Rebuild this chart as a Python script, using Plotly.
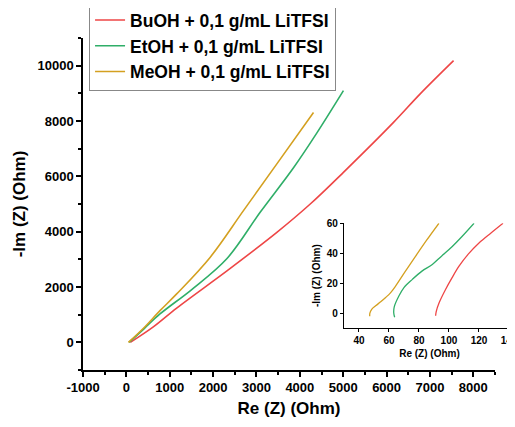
import plotly.graph_objects as go

# main Nyquist curves (Re, -Im) in Ohm
bu_re = [91, 621, 1160, 2350, 3470, 4240, 5005, 6160, 6775, 7545]
bu_im = [0, 560, 1240, 2620, 3975, 5000, 6145, 7950, 8980, 10180]
et_re = [63, 400, 775, 1500, 2315, 3085, 3850, 4390, 5005]
et_im = [0, 480, 1025, 1900, 3020, 4700, 6300, 7560, 9095]
me_re = [47, 400, 775, 1160, 1930, 2700, 3470, 4315]
me_im = [0, 520, 1145, 1750, 3070, 4760, 6450, 8310]

# zoomed high-frequency region (inset)
bu_re_z = [91.1, 91.5, 93.5, 97.8, 102, 106.7, 113, 120, 128, 136]
bu_im_z = [-1.8, 1, 7, 15.9, 23.5, 31.3, 39.5, 46.8, 53.5, 60]
et_re_z = [63.8, 63.2, 63.5, 66.7, 70, 75.6, 82, 88.9, 95, 102.2, 109, 116.7]
et_im_z = [-2.8, 0, 4, 11.5, 17, 22.5, 28, 32.5, 38, 44.5, 51.5, 60]
me_re_z = [47.2, 47.3, 48.5, 51.1, 54.5, 57.8, 61, 64.4, 71, 77.8, 85, 93.3]
me_im_z = [-2.2, 0, 2.5, 4.8, 7.5, 10.4, 13.5, 18, 28, 38, 48.5, 60]

x_ticks = [-1000, 0, 1000, 2000, 3000, 4000, 5000, 6000, 7000, 8000]
x_ticktext = ["-1000", "0", "1000", "2000", "3000", "4000", "5000", "6000", "7000", "8000"]

names = ["BuOH + 0,1 g/mL LiTFSI", "EtOH + 0,1 g/mL LiTFSI", "MeOH + 0,1 g/mL LiTFSI"]
colors = ["#EE4646", "#2FAE68", "#D4A020"]

fig = go.Figure()
main = [(bu_re, bu_im), (et_re, et_im), (me_re, me_im)]
zoom = [(bu_re_z, bu_im_z), (et_re_z, et_im_z), (me_re_z, me_im_z)]
for (x, y), n, c in zip(main, names, colors):
    fig.add_trace(go.Scatter(x=x, y=y, name=n, mode="lines",
                             line=dict(color=c, width=1.6, shape="spline", smoothing=1)))
for (x, y), c in zip(zoom, colors):
    fig.add_trace(go.Scatter(x=x, y=y, mode="lines", showlegend=False,
                             xaxis="x2", yaxis="y2",
                             line=dict(color=c, width=1.3, shape="spline")))

ax_common = dict(showgrid=False, zeroline=False, showline=True, linecolor="black",
                 ticks="outside", tickcolor="black")

# page body has an 8px margin, so the figure is 8px smaller than the window
fig.update_layout(
    width=507, height=419,
    margin=dict(l=75, r=0, t=30, b=57, autoexpand=False),
    plot_bgcolor="white", paper_bgcolor="white",
    font=dict(family="Arial, Liberation Sans", color="black"),
    xaxis=dict(**ax_common, domain=[0, 0.9537], range=[-1000, 8500],
               tickvals=x_ticks, ticktext=x_ticktext,
               linewidth=1.5, ticklen=5, tickwidth=1.5,
               minor=dict(ticks="outside", dtick=500, ticklen=3, tickcolor="black"),
               tickfont=dict(size=13, weight="bold"),
               title=dict(text="<b>Re (Z) (Ohm)</b>", font=dict(size=17), standoff=8)),
    yaxis=dict(**ax_common, range=[-1000, 11000], dtick=2000, tickformat="d",
               linewidth=1.5, ticklen=5, tickwidth=1.5,
               minor=dict(ticks="outside", dtick=1000, ticklen=3, tickcolor="black"),
               tickfont=dict(size=13, weight="bold"),
               title=dict(text="<b>-Im (Z) (Ohm)</b>", font=dict(size=17), standoff=8)),
    xaxis2=dict(**ax_common, anchor="y2", domain=[0.604, 1.0], range=[30, 144],
                tickvals=[40, 60, 80, 100, 120, 140], linewidth=1, ticklen=3,
                ticklabeloverflow="allow",
                tickfont=dict(size=10, weight="bold"),
                title=dict(text="<b>Re (Z) (Ohm)</b>", font=dict(size=10), standoff=4)),
    yaxis2=dict(**ax_common, anchor="x2", domain=[0.1265, 0.442], range=[-10, 60],
                tickvals=[0, 20, 40, 60], linewidth=1, ticklen=3,
                tickfont=dict(size=10, weight="bold"),
                title=dict(text="<b>-Im (Z) (Ohm)</b>", font=dict(size=10), standoff=4)),
    legend=dict(x=0.014, y=1.111, xanchor="left", yanchor="top",
                bordercolor="#888888", borderwidth=1, bgcolor="white",
                font=dict(size=17.5, weight="bold"), tracegroupgap=0,
                itemwidth=30),
)

fig.write_html("out.html")
